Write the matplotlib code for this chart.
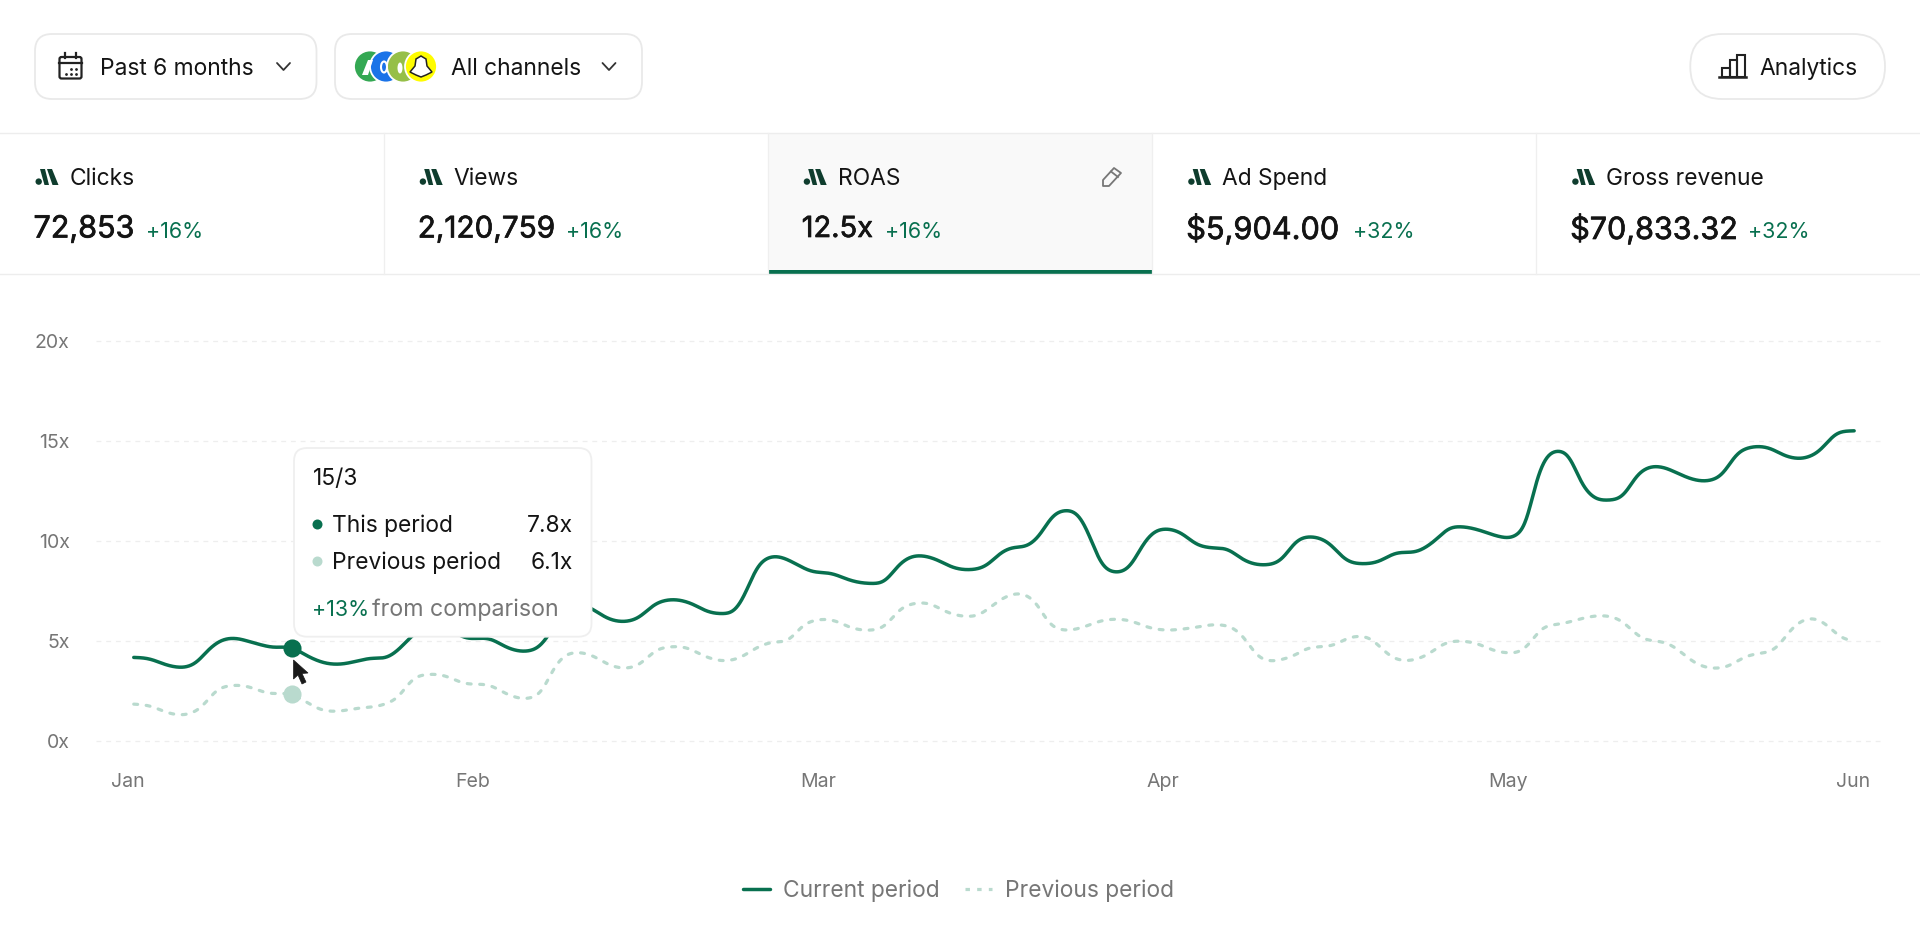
import numpy as np
import matplotlib
matplotlib.use("Agg")
import matplotlib.pyplot as plt
import matplotlib.patheffects as pe
from matplotlib.patches import FancyBboxPatch, Rectangle, Circle, Polygon, Ellipse
from matplotlib.lines import Line2D

plt.rcParams['font.family'] = ['Inter', 'DejaVu Sans']
plt.rcParams['lines.scale_dashes'] = False

# ---------- data ----------
month_labels = ['Jan', 'Feb', 'Mar', 'Apr', 'May', 'Jun']
month_days = [0, 30, 60, 90, 120, 150]
y_ticks = [0, 5, 10, 15, 20]
y_labels = ['0x', '5x', '10x', '15x', '20x']

current_days = [0.5, 1.7, 3.7, 5.0, 5.9, 7.1, 8.3, 9.2, 11.0, 12.5, 14.3, 15.7, 17.2, 18.6, 19.9, 21.1, 22.6, 23.8, 24.6,
                25.8, 27.0, 28.0, 29.0, 31.6, 33.1, 34.7, 35.8, 36.5, 37.2, 38.2, 39.0, 40.3, 41.7, 43.2, 44.3, 45.9, 47.5, 49.0,
                50.4, 51.7, 52.8, 53.7, 54.6, 55.8, 56.9, 58.0, 59.3, 61.2, 63.0, 64.5, 65.9, 67.0, 67.9, 69.2, 70.4, 71.7,
                73.1, 74.6, 76.0, 76.9, 78.2, 79.3, 80.3, 81.6, 82.7, 83.6, 84.5, 85.9, 87.2, 88.3, 89.2, 90.3, 91.5, 93.0,
                94.1, 95.7, 97.0, 98.7, 100.4, 101.5, 103.1, 104.3, 106.0, 107.4, 108.7, 110.1, 112.3, 113.7, 114.8, 116.1,
                117.7, 119.1, 120.6, 121.7, 122.3, 123.3, 124.3, 125.4, 126.3, 127.4, 128.7, 130.1, 131.2, 132.1, 133.6,
                134.8, 136.1, 137.5, 138.6, 139.9, 141.2, 142.6, 144.3, 145.6, 147.0, 148.5, 150.1]
current_roas = [4.18, 4.13, 3.74, 3.68, 3.88, 4.63, 5.08, 5.14, 4.89, 4.68, 4.66, 4.21, 3.88, 3.84, 3.99, 4.14, 4.18, 4.71, 5.21,
                5.7, 5.85, 5.6, 5.21, 5.09, 4.63, 4.48, 4.71, 5.21, 5.9, 6.6, 6.85, 6.62, 6.12, 5.96, 6.12, 6.87, 7.07, 6.87,
                6.46, 6.36, 6.51, 7.37, 8.62, 9.2, 9.17, 8.87, 8.49, 8.37, 7.99, 7.87, 8.0, 8.79, 9.17, 9.25, 9.04, 8.67,
                8.55, 8.74, 9.45, 9.67, 9.74, 10.28, 11.2, 11.53, 11.28, 10.28, 8.95, 8.42, 8.75, 9.87, 10.45, 10.6, 10.42, 9.79,
                9.65, 9.57, 9.04, 8.79, 9.1, 9.95, 10.2, 9.95, 9.0, 8.85, 8.95, 9.37, 9.5, 10.03, 10.62, 10.7,
                10.5, 10.23, 10.23, 11.03, 12.7, 14.2, 14.5, 14.2, 12.95, 12.17, 12.03, 12.28, 13.28, 13.65, 13.66,
                13.36, 13.06, 13.0, 13.28, 14.36, 14.69, 14.66, 14.2, 14.11, 14.44, 15.36, 15.5]

previous_days = [0.5, 1.9, 3.6, 5.2, 6.3, 7.7, 9.0, 10.2, 12.2, 14.3, 15.7, 16.8, 18.0, 19.9, 22.3, 23.4, 24.8, 26.1, 27.3, 29.2,
                 31.6, 33.1, 34.9, 36.0, 37.0, 38.0, 39.0, 40.1, 42.1, 43.2, 44.4, 45.9, 47.2, 48.6, 50.1, 51.7, 53.0, 55.0, 56.0,
                 57.5, 58.7, 60.0, 61.3, 63.0, 64.5, 65.7, 67.2, 68.3, 69.5, 71.5, 72.8, 73.9, 75.7, 76.8, 78.0, 78.9, 80.2, 81.3,
                 83.2, 84.5, 85.8, 86.9, 89.0, 90.1, 92.3, 94.8, 96.0, 97.0, 98.2, 99.3, 100.4, 101.5, 102.5, 103.8, 104.9, 106.0,
                 107.0, 108.1, 109.0, 109.9, 111.0, 112.1, 113.2, 114.3, 116.3, 117.5, 118.8, 119.8, 120.9, 121.8, 122.6, 123.3,
                 124.5, 126.7, 127.8, 129.0, 130.0, 130.9, 131.7, 133.0, 134.1, 135.0, 136.1, 137.0, 138.1, 139.2, 140.3, 141.4,
                 142.6, 143.5, 144.2, 145.0, 146.0, 147.1, 148.0, 148.9, 150.1]
previous_roas = [1.85, 1.76, 1.38, 1.33, 1.63, 2.55, 2.78, 2.75, 2.38, 2.33, 1.88, 1.55, 1.48, 1.63, 1.83, 2.13, 3.13, 3.33, 3.3, 2.88,
                 2.76, 2.3, 2.13, 2.46, 3.63, 4.29, 4.43, 4.33, 3.74, 3.63, 3.79, 4.54, 4.71, 4.66, 4.24, 4.0, 4.11, 4.76, 4.94,
                 5.04, 5.79, 6.06, 6.04, 5.63, 5.53, 5.68, 6.62, 6.87, 6.89, 6.37, 6.22, 6.27, 7.0, 7.32, 7.32, 6.96, 5.79, 5.54,
                 5.71, 5.99, 6.09, 6.04, 5.63, 5.54, 5.63, 5.81, 5.68, 5.21, 4.24, 3.99, 4.08, 4.29, 4.63, 4.71, 4.79, 5.13,
                 5.24, 5.11, 4.63, 4.18, 4.01, 4.09, 4.38, 4.83, 4.98, 4.83, 4.51, 4.41, 4.43, 4.79, 5.46, 5.74,
                 5.83, 6.16, 6.26, 6.21, 5.96, 5.46, 5.11, 4.99, 4.83, 4.46, 3.96, 3.71, 3.63, 3.74, 4.13, 4.34,
                 4.44, 4.71, 5.29, 5.79, 6.11, 6.04, 5.66, 5.18, 4.99]

hover_day = 14.3
hover_current = 4.66
hover_previous = 2.33

tab_names = ['Clicks', 'Views', 'ROAS', 'Ad Spend', 'Gross revenue']
tab_values = ['72,853', '2,120,759', '12.5x', '$5,904.00', '$70,833.32']
tab_deltas = ['+16%', '+16%', '+16%', '+32%', '+32%']

# ---------- style ----------
W, H = 1920, 938
GREEN = '#08704F'
LIGHT = '#B9DACE'
INK = '#141414'
GRAY = '#767676'
BORDER = '#E9E9E9'
px = 0.72  # font points per pixel at dpi 100
UI_PX = 22.8
value_px = [30.5, 29.7, 29.0, 30.7, 30.5]
delta_x = [146.5, 566.5, 885, 1353, 1748.5]


def smooth(x, y, sigma=0.45):
    """Smooth curve through the read points: cubic Hermite, then a light Gaussian pen."""
    x, y = np.asarray(x, float), np.asarray(y, float)
    m = np.gradient(y, x)
    xg = np.arange(x[0], x[-1] + 0.05, 0.05)
    i = np.clip(np.searchsorted(x, xg, side='right') - 1, 0, len(x) - 2)
    h = x[i + 1] - x[i]
    t = (xg - x[i]) / h
    yg = ((2*t**3 - 3*t**2 + 1) * y[i] + (t**3 - 2*t**2 + t) * h * m[i]
          + (-2*t**3 + 3*t**2) * y[i + 1] + (t**3 - t**2) * h * m[i + 1])
    r = int(3 * sigma / 0.05)
    k = np.exp(-0.5 * (np.arange(-r, r + 1) * 0.05 / sigma) ** 2)
    k /= k.sum()
    return xg, np.convolve(np.pad(yg, r, mode='edge'), k, mode='valid')


fig = plt.figure(figsize=(W / 100, H / 100), dpi=100, facecolor='white')


def pixel_axes(z):
    a = fig.add_axes([0, 0, 1, 1], zorder=z)
    a.set_xlim(0, W); a.set_ylim(H, 0); a.axis('off'); a.patch.set_alpha(0)
    return a


ui = pixel_axes(1)
top = pixel_axes(5)


def button(a, x0, x1, y0, y1, r, ec=BORDER):
    a.add_patch(FancyBboxPatch((x0 + r, y0 + r), x1 - x0 - 2 * r, y1 - y0 - 2 * r,
                               boxstyle=f'round,pad={r},rounding_size={r}',
                               fc='white', ec=ec, lw=1.3))


def chevron(a, x, y):
    a.plot([x - 6.5, x, x + 6.5], [y - 3.5, y + 3.5, y - 3.5], color='#333333', lw=1.3,
           solid_capstyle='round', solid_joinstyle='round')


def mlogo(a, x, y):
    c = '#0F3D2E'
    a.add_patch(Circle((x + 3.2, y + 12.6), 3.2, fc=c, ec='none'))
    a.add_patch(Polygon([(x + 4.5, y + 0), (x + 9.5, y + 0), (x + 13.5, y + 16), (x + 9, y + 16)], fc=c, ec='none'))
    a.add_patch(Polygon([(x + 11.5, y + 0), (x + 16.5, y + 0), (x + 23, y + 16), (x + 17, y + 16)], fc=c, ec='none'))


# filter bar
button(ui, 35, 316.5, 34, 99, 17)
button(ui, 335, 642, 34, 99, 17)
button(ui, 1690.3, 1885, 34, 99, 32)

# calendar icon
ui.add_patch(FancyBboxPatch((59.5, 57), 22, 21.5, boxstyle='round,pad=0,rounding_size=2', fc='none', ec='#222222', lw=1.6))
ui.plot([59, 82], [63.5, 63.5], color='#222222', lw=1.6)
for cx in (65, 76):
    ui.plot([cx, cx], [53, 58], color='#222222', lw=1.6)
ui.scatter([71, 76, 66, 71, 76], [69, 69, 74, 74, 74], s=4, color='#222222', lw=0)
ui.text(100, 69, 'Past 6 months', fontsize=UI_PX * px, color=INK, va='center', ha='left')
chevron(ui, 283.5, 66.5)

# channel badges
for cx, col in zip((370, 386, 403, 421), ('#34A853', '#1A73E8', '#96BF48', '#FFFC00')):
    ui.add_patch(Circle((cx, 66.5), 16, fc=col, ec='white', lw=1.3))
ui.add_patch(Polygon([(362, 75), (368, 60), (373, 60), (368, 75)], fc='white', ec='none'))
ui.add_patch(Ellipse((384, 67), 6, 11, fc='none', ec='white', lw=1.5))
ui.add_patch(Ellipse((400, 68), 5, 11, fc='white', ec='none'))
ui.add_patch(Polygon([(421, 56), (426, 59), (427, 66), (432, 72), (426, 75), (421, 77), (416, 75), (410, 72), (415, 66), (416, 59)],
                     fc='white', ec='#222222', lw=1.1))
ui.text(451, 69, 'All channels', fontsize=UI_PX * px, color=INK, va='center', ha='left')
chevron(ui, 609, 66.5)

# analytics button
for x0, x1, y0 in ((1722, 1730, 68), (1730, 1737, 60.5), (1737, 1745, 55)):
    ui.add_patch(Rectangle((x0, y0), x1 - x0, 77 - y0, fc='none', ec='#222222', lw=1.5))
ui.plot([1719, 1746], [77.5, 77.5], color='#222222', lw=1.8)
ui.text(1759.5, 69, 'Analytics', fontsize=UI_PX * px, color=INK, va='center', ha='left')

# metric tabs
col_edges = [0, 383.7, 767.7, 1152.2, 1536.2, 1920]
ui.add_patch(Rectangle((767.7, 133), 384.5, 138, fc='#F9F9F9', ec='none'))
ui.plot([0, W], [132.7, 132.7], color='#EDEDED', lw=1)
ui.plot([0, W], [274.3, 274.3], color='#EDEDED', lw=1)
for xe in col_edges[1:-1]:
    ui.plot([xe, xe], [133, 274], color='#EFEFEF', lw=0.9)
ui.add_patch(Rectangle((767.7, 270.2), 384.5, 3.6, fc=GREEN, ec='none'))

for i, (name, val, delta) in enumerate(zip(tab_names, tab_values, tab_deltas)):
    x0 = (col_edges[i] + 33.5) if i == 0 else (col_edges[i] + 34)
    mlogo(ui, x0 + 2, 169)
    ui.text(x0 + 36, 179, name, fontsize=UI_PX * px, color=INK, va='center', ha='left')
    ui.text(x0, 229.5, val, fontsize=value_px[i] * px, color=INK, va='center', ha='left',
            path_effects=[pe.withStroke(linewidth=0.5, foreground=INK)])
    ui.text(delta_x[i], 231.5, delta, fontsize=21.5 * px, color=GREEN, va='center', ha='left')

# pencil
ui.add_patch(Polygon([(1103, 186), (1103, 180), (1114, 168), (1121, 173), (1109, 186)], fc='none', ec='#777777', lw=1.3, joinstyle='round'))
ui.plot([1111, 1118], [171.5, 177], color='#777777', lw=1.3)

# ---------- chart ----------
L, R, T, B = 96, 1884, 340.6, 741
ax = fig.add_axes([L / W, 1 - B / H, (R - L) / W, (B - T) / H], zorder=2)
ax.patch.set_alpha(0)
ax.set_xlim((L - 128) / 11.5, (R - 128) / 11.5)
ax.set_ylim(0, 20)
for s in ax.spines.values():
    s.set_visible(False)

ax.set_yticks(y_ticks)
ax.set_yticklabels(y_labels)
ax.set_xticks(month_days)
ax.set_xticklabels(month_labels)
ax.tick_params(axis='both', length=0, labelsize=19.5 * px, labelcolor=GRAY)
ax.tick_params(axis='y', pad=19)
ax.tick_params(axis='x', pad=23)
ax.grid(axis='y', color='#EEEEEE', lw=0.9, linestyle=(0, (3.5, 3.5)), clip_on=False)
ax.set_axisbelow(True)

xc, yc = smooth(current_days, current_roas)
xp, yp = smooth(previous_days, previous_roas)
ax.plot(xp, yp, color=LIGHT, lw=2.3, linestyle=(0, (2.8, 6.2)), dash_capstyle='round', label='Previous period', zorder=2)
ax.plot(xc, yc, color=GREEN, lw=2.5, solid_capstyle='round', label='Current period', zorder=3)
ax.scatter([hover_day], [hover_previous], s=170, color=LIGHT, linewidths=0, zorder=4)
ax.scatter([hover_day], [hover_current], s=170, color=GREEN, linewidths=0, zorder=4)

handles = [Line2D([], [], color=GREEN, lw=2.5, solid_capstyle='round'),
           Line2D([], [], color=LIGHT, lw=2.3, linestyle=(0, (3.2, 5.2)))]
fig.legend(handles, ['Current period', 'Previous period'], ncol=2, frameon=False,
           loc='center', bbox_to_anchor=(958.5 / W, 1 - 891 / H), prop={'size': UI_PX * px},
           labelcolor=GRAY, handlelength=1.2, handletextpad=0.57, columnspacing=1.1,
           borderpad=0, borderaxespad=0)

# ---------- tooltip and cursor ----------
button(top, 294, 591.5, 448, 636.7, 13, ec='#EFEFEF')
top.text(312.5, 479.5, '15/3', fontsize=UI_PX * px, color=INK, va='center', ha='left')
top.add_patch(Circle((317.5, 524.5), 5, fc=GREEN, ec='none'))
top.add_patch(Circle((317.5, 561.5), 5, fc=LIGHT, ec='none'))
top.text(332.5, 526, 'This period', fontsize=UI_PX * px, color=INK, va='center', ha='left')
top.text(332.5, 563, 'Previous period', fontsize=UI_PX * px, color=INK, va='center', ha='left')
top.text(573.5, 526, '7.8x', fontsize=UI_PX * px, color=INK, va='center', ha='right')
top.text(573.5, 563, '6.1x', fontsize=UI_PX * px, color=INK, va='center', ha='right')
top.text(312.5, 610, '+13%', fontsize=21.5 * px, color=GREEN, va='center', ha='left')
top.text(372, 610, 'from comparison', fontsize=23.2 * px, color=GRAY, va='center', ha='left')
top.add_patch(Polygon([(293.5, 660), (293.5, 679), (298, 675), (302, 684), (306, 682), (302, 673.5), (308, 673)],
                      fc='#1A1A1A', ec='#1A1A1A', lw=0.5))

fig.savefig('out.png', dpi=100, facecolor='white')
